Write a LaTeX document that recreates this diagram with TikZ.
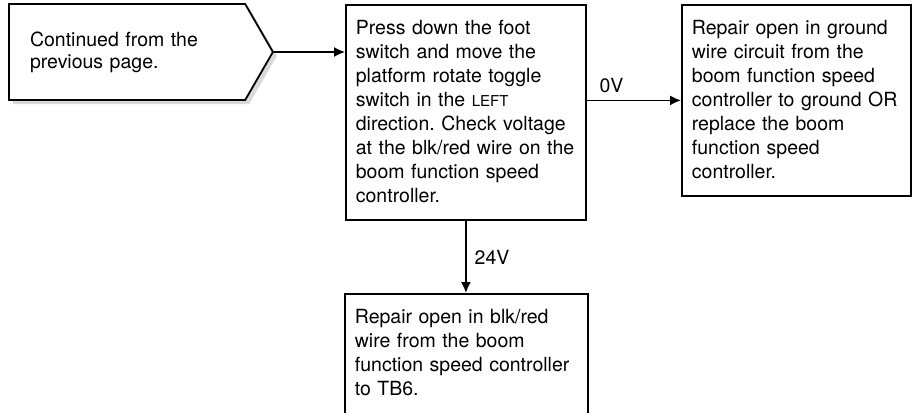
\documentclass[tikz,border=0pt]{standalone}
\usepackage{fontspec}
\setmainfont{TeX Gyre Heros}
\usetikzlibrary{shapes.symbols,shadows,arrows.meta}
\frenchspacing
\hyphenpenalty=10000

\begin{document}
\begin{tikzpicture}[x=1pt, y=-1pt,
    >={Latex[length=11pt,width=10pt]},
    box/.style={draw, line width=1.8pt, anchor=north west, align=left,
      inner xsep=10pt, inner ysep=12pt, text height=18pt,
      font=\fontsize{19.5}{24}\selectfont},
    start/.style={draw, line width=1.8pt, signal, signal to=east,
      signal pointer angle=120, minimum width=264pt, minimum height=96pt,
      text width=194pt, align=left, fill=white, anchor=west,
      font=\fontsize{19.5}{22}\selectfont,
      drop shadow={shadow xshift=4pt, shadow yshift=-4pt, fill=black!15, opacity=1}},
    edge/.style={->, line width=1.6pt},
    lbl/.style={font=\fontsize{19.5}{24}\selectfont}]

  \clip (0,0) rectangle (912,412);

  \node[start] (prev) at (8,52) {Continued from the\\previous page.};
  \node[box, text width=220pt, text depth=173pt] (check) at (345,4)
    {Press down the foot\\switch and move the\\platform rotate toggle\\
     switch in the {\fontsize{15}{24}\selectfont LEFT}\\direction. Check voltage\\
     at the blk/red wire on the\\boom function speed\\controller.};
  \node[box, text width=209pt, text depth=149pt] (ground) at (681,4)
    {Repair open in ground\\wire circuit from the\\boom function speed\\
     controller to ground OR\\replace the boom\\function speed\\controller.};
  \node[box, text width=223pt, text depth=130pt] (tbsix) at (344,293)
    {Repair open in blk/red\\wire from the boom\\function speed controller\\to TB6.};

  \draw[edge] (prev.east) -- (prev.east -| check.west);
  \draw[edge] (check.east |- ground.west) -- (ground.west)
    node[lbl, above right, pos=0, inner xsep=12pt, inner ysep=7pt] {0V};
  \draw[edge] (check.south) -- (check.south |- tbsix.north)
    node[lbl, right, midway, inner xsep=8pt] {24V};
\end{tikzpicture}
\end{document}
